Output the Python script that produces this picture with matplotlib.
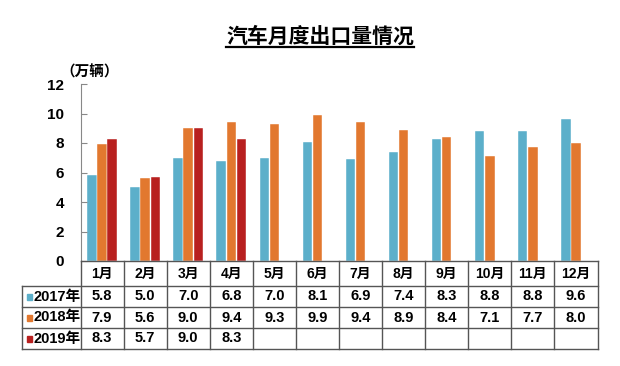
import numpy as np
import matplotlib.pyplot as plt
from matplotlib.patches import Rectangle

plt.rcParams['font.family'] = ['Liberation Sans', 'Noto Sans CJK SC', 'DejaVu Sans']
plt.rcParams['font.weight'] = 'bold'

# data
months = ["1月", "2月", "3月", "4月", "5月", "6月", "7月", "8月", "9月", "10月", "11月", "12月"]
series_names = ["2017年", "2018年", "2019年"]
v2017 = [5.8, 5.0, 7.0, 6.8, 7.0, 8.1, 6.9, 7.4, 8.3, 8.8, 8.8, 9.6]
v2018 = [7.9, 5.6, 9.0, 9.4, 9.3, 9.9, 9.4, 8.9, 8.4, 7.1, 7.7, 8.0]
v2019 = [8.3, 5.7, 9.0, 8.3]
yticks = [0, 2, 4, 6, 8, 10, 12]

colors = ["#5CAFCA", "#E2782F", "#B8201F"]
series = [v2017, v2018, v2019]

W, H = 620, 366
fig = plt.figure(figsize=(W / 100, H / 100), dpi=100)

x_left, x_right = 80.5, 597.5
ax = fig.add_axes([x_left / W, 1 - 261 / H, (x_right - x_left) / W, (261 - 84) / H])

offsets = [-0.235, 0.0, 0.235]
for vals, off, c in zip(series, offsets, colors):
    x = np.arange(len(vals)) + off
    ax.bar(x, vals, width=0.22, color=c, edgecolor="white", linewidth=0.3)

ax.set_xlim(-0.5, len(months) - 0.5)
ax.set_ylim(0, 12)
ax.set_yticks(yticks)
ax.set_yticklabels([str(t) for t in yticks], fontsize=11, fontweight="bold")
ax.tick_params(axis="y", direction="in", length=4, color="#888888", pad=12)
ax.set_xticks([])
for s in ["top", "right", "bottom"]:
    ax.spines[s].set_visible(False)
ax.spines["left"].set_color("#888888")
ax.spines["left"].set_linewidth(0.8)
# unit label sits just right of the "12" tick label
ax.text(0.018, 1.07, "（万辆）", transform=ax.transAxes, fontsize=10.5,
        fontweight="bold", ha="center", va="center",
        family=['Noto Sans CJK SC', 'DejaVu Sans'])

# table under the plot, y in pixels from the plot bottom
tab = fig.add_axes([x_left / W, 1 - 349 / H, (x_right - x_left) / W, (349 - 261) / H])
tab.set_xlim(-0.5, len(months) - 0.5)
tab.set_ylim(88, 0)
tab.axis("off")
rows = [0, 25, 46, 67, 88]
head_left = -0.5 - (x_left - 21.5) / ((x_right - x_left) / len(months))
lc = "#555555"
lw = 1.0
tab.plot([-0.5, 11.5], [0, 0], color=lc, lw=lw, clip_on=False)
for r in rows[1:]:
    tab.plot([head_left, 11.5], [r, r], color=lc, lw=lw, clip_on=False)
tab.plot([head_left, head_left], [rows[1], rows[-1]], color=lc, lw=lw, clip_on=False)
for k in range(len(months) + 1):
    tab.plot([k - 0.5, k - 0.5], [0, rows[-1]], color=lc, lw=lw, clip_on=False)

for i, m in enumerate(months):
    tab.text(i, (rows[0] + rows[1]) / 2, m, ha="center", va="center",
             fontsize=10, fontweight="bold", clip_on=False)

for j, (name, vals, c) in enumerate(zip(series_names, series, colors)):
    yc = (rows[j + 1] + rows[j + 2]) / 2
    tab.add_patch(Rectangle((head_left + 0.12, yc - 2.5), 0.12, 5.5, color=c, clip_on=False))
    tab.text(head_left + 0.29, yc, name, ha="left", va="center",
             fontsize=10.5, fontweight="bold", clip_on=False)
    for i, v in enumerate(vals):
        tab.text(i, yc, f"{v:.1f}", ha="center", va="center",
                 fontsize=10.5, fontweight="bold", clip_on=False)

# title with underline
t = fig.text(320 / W, 1 - 36 / H, "汽车月度出口量情况", ha="center", va="center",
             fontsize=15, fontweight="bold", family=['Noto Sans CJK SC', 'DejaVu Sans'])
fig.canvas.draw()
bb = t.get_window_extent()
fig.add_artist(plt.Line2D([bb.x0 / W, bb.x1 / W], [1 - 47 / H, 1 - 47 / H],
                          color="black", lw=1.6))

fig.savefig("out.png", dpi=100)
